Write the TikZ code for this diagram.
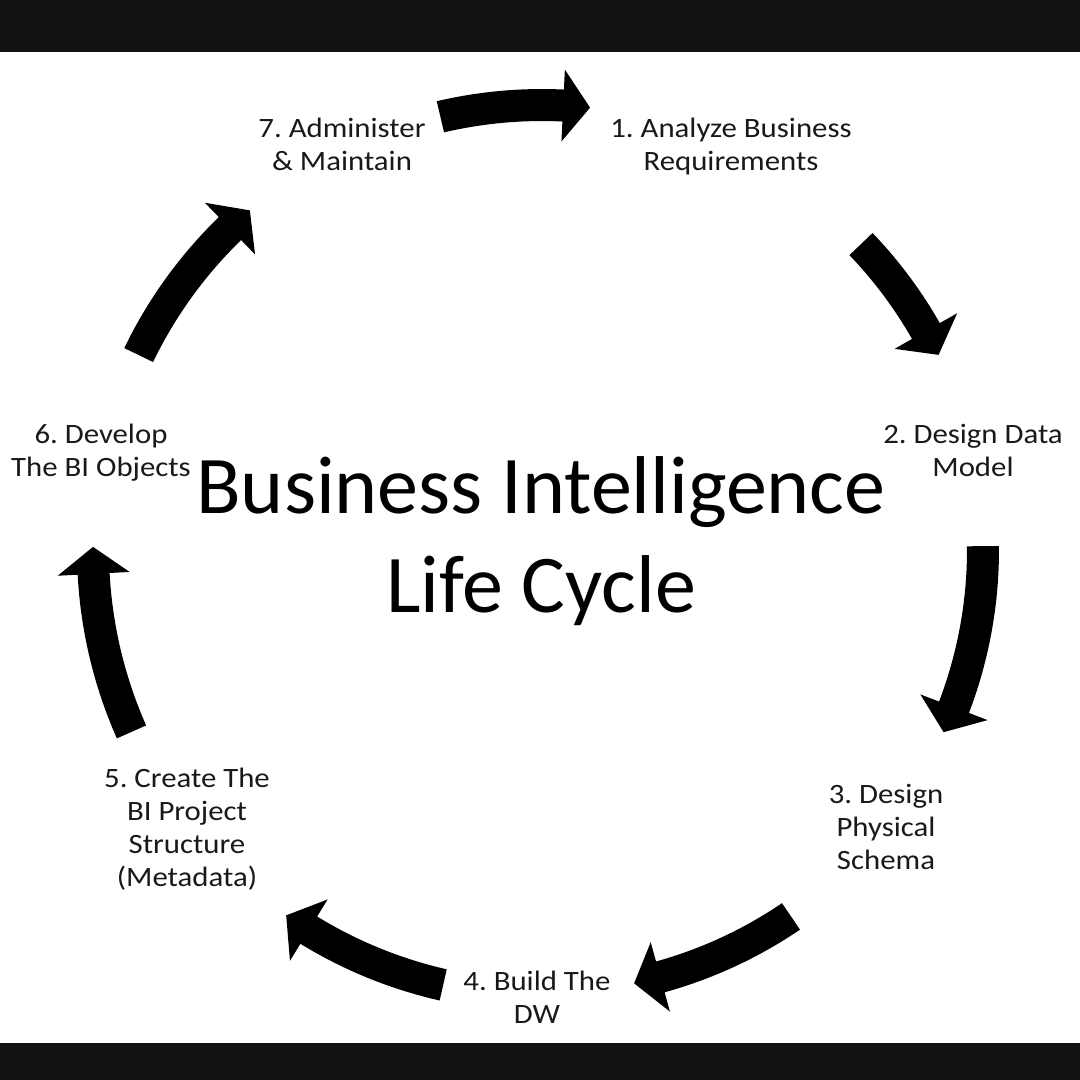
\documentclass[tikz,border=0pt]{standalone}
\usepackage{fontspec}
\setmainfont{Carlito}
\newfontfamily\lblfont[FakeStretch=1.10]{Carlito}
\definecolor{barc}{RGB}{17,17,17}
\definecolor{txtc}{RGB}{25,25,25}
\newcommand\cyclearrow[3]{%
  \pgfmathsetmacro\hb{#2+27/#3*57.2958}%
  \fill[arrowfill,shift={(c)}] ({#1}:{#3+16}) arc[start angle=#1,end angle=\hb,radius=#3+16]
     -- ({\hb}:{#3+36}) -- ({#2}:{#3}) -- ({\hb}:{#3-36}) -- ({\hb}:{#3-16})
     arc[start angle=\hb,end angle=#1,radius=#3-16] -- cycle;}
\begin{document}
\frenchspacing
\begin{tikzpicture}[x=1pt,y=1pt,
  lbl/.style={align=center,text=txtc,font=\lblfont\fontsize{28}{33}\selectfont,anchor=base,inner sep=0pt},
  ttl/.style={align=center,text=black,font=\fontsize{82}{99}\selectfont,anchor=base,inner sep=0pt},
  arrowfill/.style={fill=black}]
\useasboundingbox (0,0) rectangle (1080,-1080);
\fill[white] (0,0) rectangle (1080,-1080);
\fill[barc] (0,0) rectangle (1080,-52);
\fill[barc] (0,-1043) rectangle (1080,-1080);
\coordinate (c) at (542,-550);
% arrows
\cyclearrow{103.2}{83.8}{445}
\cyclearrow{43.8}{26.2}{442}
\cyclearrow{0.5}{-24.4}{441}
\cyclearrow{-55.8}{-78.0}{443}
\cyclearrow{-102.8}{-125}{446}
\cyclearrow{-156.1}{-180.4}{449}
\cyclearrow{154.2}{130.7}{448}
% labels
\node[ttl] (title) at (541,-612) {Business Intelligence\\Life Cycle};
\node[lbl] (n1) at (731,-170) {1. Analyze Business\\Requirements};
\node[lbl] (n2) at (973,-476) {2. Design Data\\Model};
\node[lbl] (n3) at (886,-869) {3. Design\\Physical\\Schema};
\node[lbl] (n4) at (537,-1023) {4. Build The\\DW};
\node[lbl] (n5) at (187,-886) {5. Create The\\BI Project\\Structure\\(Metadata)};
\node[lbl] (n6) at (101,-476) {6. Develop\\The BI Objects};
\node[lbl] (n7) at (342,-170) {7. Administer\\\& Maintain};
\end{tikzpicture}
\end{document}
